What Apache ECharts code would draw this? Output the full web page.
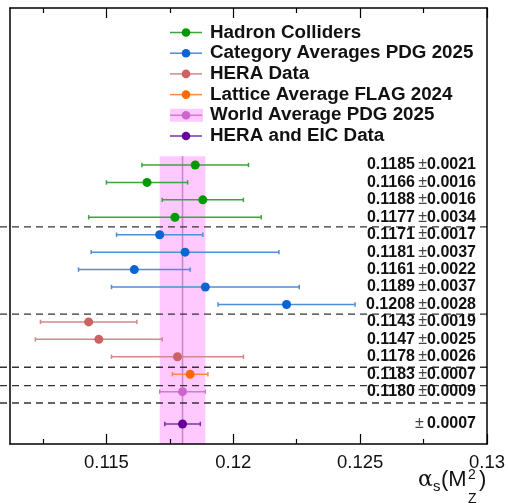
<!DOCTYPE html>
<html>
<head>
<meta charset="utf-8">
<script src="https://cdn.jsdelivr.net/npm/echarts@6/dist/echarts.min.js"></script>
<style>
html,body{margin:0;padding:0;background:#fff;}
#chart{width:508px;height:503px;}
</style>
</head>
<body>
<div id="chart"></div>
<script>
// ---- data ----
const groupNames = ['Hadron Colliders', 'Category Averages PDG 2025', 'HERA Data', 'Lattice Average FLAG 2024', 'World Average PDG 2025', 'HERA and EIC Data'];
const hadronVals = [0.1185, 0.1166, 0.1188, 0.1177];
const hadronErrs = [0.0021, 0.0016, 0.0016, 0.0034];
const hadronRows = [0, 1, 2, 3];
const pdgVals = [0.1171, 0.1181, 0.1161, 0.1189, 0.1221];
const pdgErrs = [0.0017, 0.0037, 0.0022, 0.0037, 0.0027];
const pdgRows = [4, 5, 6, 7, 8];
const heraVals = [0.1143, 0.1147, 0.1178];
const heraErrs = [0.0019, 0.0025, 0.0026];
const heraRows = [9, 10, 11];
const latticeVals = [0.1183];
const latticeErrs = [0.0007];
const latticeRows = [12];
const worldVals = [0.1180];
const worldErrs = [0.0009];
const worldRows = [13];
const eicVals = [0.1180];
const eicErrs = [0.0007];
const eicRows = [14.85];
const worldBandX = [0.1171, 0.1189];
const worldBandRows = [-0.5, 16];
const worldCentral = 0.1180;
const labelCentral = ['0.1185','0.1166','0.1188','0.1177','0.1171','0.1181','0.1161','0.1189','0.1208','0.1143','0.1147','0.1178','0.1183','0.1180',''];
const labelErr = ['0.0021','0.0016','0.0016','0.0034','0.0017','0.0037','0.0022','0.0037','0.0028','0.0019','0.0025','0.0026','0.0007','0.0009','0.0007'];
const labelRows = [0,1,2,3,4,5,6,7,8,9,10,11,12,13,14.85];
const separatorRows = [3.55, 8.55, 11.6, 12.65, 13.65];
const majorTicks = [0.115, 0.12, 0.125, 0.13];
const minorTicks = [0.1125, 0.1175, 0.1225, 0.1275];
const xMin = 0.1112, xMax = 0.13;

// ---- styles ----
const markerColors = ['#009a00', '#0a64d2', '#cc6262', '#ff6a00', '#cc66cc', '#660099'];
const barColors = ['#3aa53a', '#4a8fd8', '#d08a8a', '#ff8a40', '#d27ad2', '#7a33aa'];
const FONT = '"Liberation Sans", Arial, Helvetica, sans-serif';

const groups = [
  [hadronVals, hadronErrs, hadronRows],
  [pdgVals, pdgErrs, pdgRows],
  [heraVals, heraErrs, heraRows],
  [latticeVals, latticeErrs, latticeRows],
  [worldVals, worldErrs, worldRows],
  [eicVals, eicErrs, eicRows]
];

function errRender(color) {
  return function (params, api) {
    const v = api.value(0), r = api.value(1), e = api.value(2);
    const p1 = api.coord([v - e, r]);
    const p2 = api.coord([v + e, r]);
    const c = 2.2;
    const st = {stroke: color, lineWidth: 1.5};
    return {type: 'group', children: [
      {type: 'line', shape: {x1: p1[0], y1: p1[1], x2: p2[0], y2: p2[1]}, style: st},
      {type: 'line', shape: {x1: p1[0], y1: p1[1] - c, x2: p1[0], y2: p1[1] + c}, style: st},
      {type: 'line', shape: {x1: p2[0], y1: p2[1] - c, x2: p2[0], y2: p2[1] + c}, style: st}
    ]};
  };
}

const series = [];
// world band
series.push({
  type: 'custom', z: 1, silent: true,
  data: [[worldBandX[0], worldBandX[1], worldBandRows[0], worldBandRows[1], worldCentral]],
  renderItem: function (params, api) {
    const a = api.coord([api.value(0), api.value(2)]);
    const b = api.coord([api.value(1), api.value(3)]);
    const c1 = api.coord([api.value(4), api.value(2)]);
    const c2 = api.coord([api.value(4), api.value(3)]);
    return {type: 'group', children: [
      {type: 'rect', shape: {x: a[0], y: a[1], width: b[0] - a[0], height: b[1] - a[1]}, style: {fill: '#ffc8ff'}},
      {type: 'line', shape: {x1: c1[0], y1: c1[1], x2: c2[0], y2: c2[1]}, style: {stroke: '#cc80cc', lineWidth: 1.5}}
    ]};
  }
});
// separators
series.push({
  type: 'custom', z: 2, silent: true, clip: false,
  data: separatorRows.map(r => [xMin, xMax, r]),
  renderItem: function (params, api) {
    const a = api.coord([api.value(0), api.value(2)]);
    const b = api.coord([api.value(1), api.value(2)]);
    return {type: 'line', shape: {x1: a[0] - 10, y1: a[1], x2: b[0], y2: b[1]},
      style: {stroke: '#333', lineWidth: 1.3, lineDash: [7, 5]}};
  }
});
groups.forEach((g, i) => {
  const [vals, errs, rows] = g;
  series.push({
    type: 'custom', z: 3, silent: true, name: groupNames[i] + ' err',
    data: vals.map((v, k) => [v, rows[k], errs[k]]),
    renderItem: errRender(barColors[i])
  });
  series.push({
    type: 'scatter', z: 4, name: groupNames[i], symbol: 'circle', symbolSize: 9,
    itemStyle: {color: markerColors[i], opacity: 1},
    data: vals.map((v, k) => [v, rows[k]])
  });
});
// value labels
series.push({
  type: 'custom', z: 5, silent: true, clip: false,
  data: labelRows.map((r, k) => [xMax, r, k]),
  renderItem: function (params, api) {
    const p = api.coord([api.value(0), api.value(1)]);
    const k = api.value(2);
    const c = labelCentral[k];
    const txt = (c ? '{v|' + c + '} ' : '') + '{pm|±}' + (c ? '' : ' ') + '{v|' + labelErr[k] + '}';
    return {type: 'text', x: p[0] - 11, y: p[1], style: {
      text: txt, align: 'right', verticalAlign: 'middle',
      rich: {
        v: {fontFamily: FONT, fontWeight: 'bold', fontSize: 16, fill: '#111'},
        pm: {fontFamily: FONT, fontWeight: 'normal', fontSize: 16, fill: '#444'}
      }
    }};
  }
});

// legend graphics
const legendGraphics = [];
groupNames.forEach((n, i) => {
  const y = 32.5 + i * 20.7;
  if (i === 4) {
    legendGraphics.push({type: 'rect', shape: {x: 170, y: y - 6.5, width: 33, height: 13}, style: {fill: '#ffc8ff'}, z: 10});
  }
  legendGraphics.push({type: 'line', shape: {x1: 170, y1: y, x2: 202, y2: y}, style: {stroke: barColors[i], lineWidth: 1.5}, z: 11});
  legendGraphics.push({type: 'circle', shape: {cx: 186, cy: y, r: 4.3}, style: {fill: markerColors[i]}, z: 12});
  legendGraphics.push({type: 'text', x: 210, y: y, style: {text: n, fontFamily: FONT, fontWeight: 'bold', fontSize: 18.8, fill: '#111', verticalAlign: 'middle'}, z: 12});
});
// axis title  alpha_s(M_Z^2)
const titleGraphics = [
  {type: 'text', x: 418, y: 480, style: {text: 'α', fontFamily: '"DejaVu Serif", serif', fontSize: 22, fill: '#111', verticalAlign: 'middle'}},
  {type: 'text', x: 433, y: 487, style: {text: 's', fontFamily: FONT, fontSize: 15, fill: '#111', verticalAlign: 'middle'}},
  {type: 'text', x: 441, y: 480, style: {text: '(M', fontFamily: FONT, fontSize: 22, fill: '#111', verticalAlign: 'middle'}},
  {type: 'text', x: 468, y: 475, style: {text: '2', fontFamily: FONT, fontSize: 14, fill: '#111', verticalAlign: 'middle'}},
  {type: 'text', x: 468, y: 499, style: {text: 'Z', fontFamily: FONT, fontSize: 14, fill: '#111', verticalAlign: 'middle'}},
  {type: 'text', x: 479, y: 480, style: {text: ')', fontFamily: FONT, fontSize: 22, fill: '#111', verticalAlign: 'middle'}}
];

function xAx(position, ticks, len, labels, line) {
  return {
    type: 'value', position: position, min: xMin, max: xMax, z: 10,
    axisLine: {show: line, onZero: false, lineStyle: {color: '#000', width: 1.5}},
    axisTick: {show: true, inside: true, length: len, customValues: ticks, lineStyle: {color: '#000', width: 1.2}},
    axisLabel: labels ? {show: true, customValues: majorTicks, fontFamily: FONT, fontSize: 18.5, color: '#111', margin: 9,
      formatter: v => String(+v.toFixed(4))} : {show: false},
    splitLine: {show: false}
  };
}

const chart = echarts.init(document.getElementById('chart'), null, {renderer: 'canvas'});
chart.setOption({
  animation: false,
  backgroundColor: '#fff',
  grid: {left: 10, right: 19, top: 8, bottom: 59, containLabel: false},
  xAxis: [
    xAx('bottom', majorTicks, 10, true, true),
    xAx('bottom', minorTicks, 5, false, false),
    xAx('top', majorTicks, 10, false, true),
    xAx('top', minorTicks, 5, false, false)
  ],
  yAxis: [
    {type: 'value', inverse: true, min: -9, max: 16, position: 'left', z: 10,
      axisLine: {show: true, onZero: false, lineStyle: {color: '#000', width: 1.5}}, axisTick: {show: false}, axisLabel: {show: false}, splitLine: {show: false}},
    {type: 'value', inverse: true, min: -9, max: 16, position: 'right', z: 10,
      axisLine: {show: true, onZero: false, lineStyle: {color: '#000', width: 1.5}}, axisTick: {show: false}, axisLabel: {show: false}, splitLine: {show: false}}
  ],
  graphic: legendGraphics.concat(titleGraphics),
  series: series
});
</script>
</body>
</html>
